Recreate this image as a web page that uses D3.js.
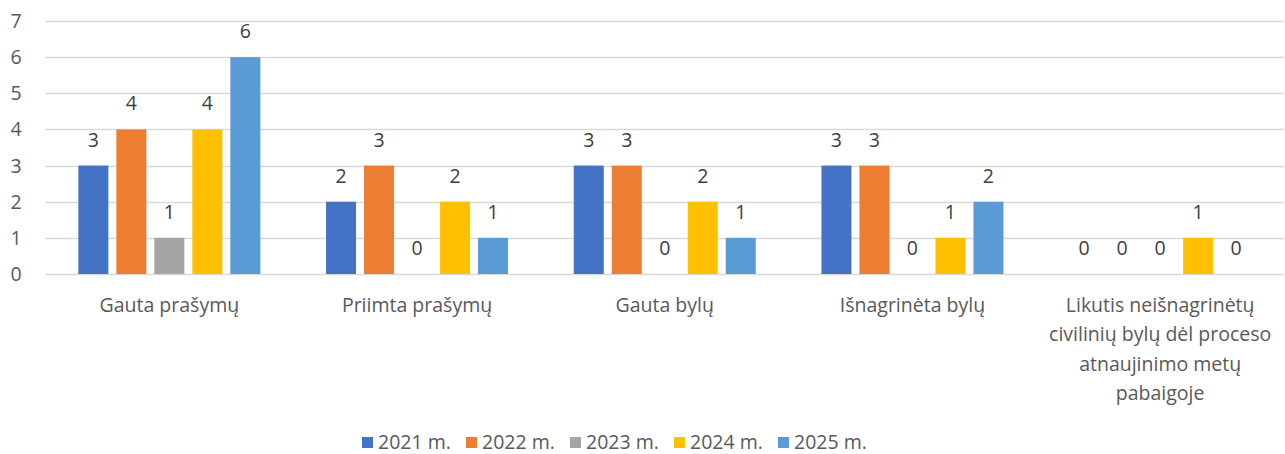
<!DOCTYPE html>
<html>
<head>
<meta charset="utf-8">
<script src="https://cdn.jsdelivr.net/npm/d3@7"></script>
<style>
  body { margin: 0; background: #fff; }
  svg text { font-family: "Open Sans", "Noto Sans", sans-serif; fill: #595959; }
</style>
</head>
<body>
<div id="content"></div>
<script>
const categories = [
  ["Gauta prašymų"],
  ["Priimta prašymų"],
  ["Gauta bylų"],
  ["Išnagrinėta bylų"],
  ["Likutis neišnagrinėtų", "civilinių bylų dėl proceso", "atnaujinimo metų", "pabaigoje"]
];
const seriesNames = ["2021 m.", "2022 m.", "2023 m.", "2024 m.", "2025 m."];
const colors = ["#4472c4", "#ed7d31", "#a5a5a5", "#ffc000", "#5b9bd5"];
const values2021 = [3, 2, 3, 3, 0];
const values2022 = [4, 3, 3, 3, 0];
const values2023 = [1, 0, 0, 0, 0];
const values2024 = [4, 2, 2, 1, 1];
const values2025 = [6, 1, 1, 2, 0];
const yTicks = [0, 1, 2, 3, 4, 5, 6, 7];

const allSeries = [values2021, values2022, values2023, values2024, values2025];

const width = 1285;
const height = 454;
const plotLeft = 45.5, plotRight = 1284, plotTop = 21, plotBottom = 274;
const fontSize = "19.5px";

const svg = d3.select("#content").append("svg")
  .attr("width", width)
  .attr("height", height);

const x0 = d3.scaleBand()
  .domain(d3.range(categories.length))
  .range([plotLeft, plotRight]);

const x1 = d3.scaleBand()
  .domain(d3.range(seriesNames.length))
  .range([-95, 95])
  .paddingInner(0.21)
  .paddingOuter(0.105);

const y = d3.scaleLinear().domain([0, 7]).range([plotBottom, plotTop]);

// gridlines
svg.append("g")
  .selectAll("line")
  .data(yTicks)
  .enter()
  .append("line")
  .attr("x1", plotLeft)
  .attr("x2", plotRight)
  .attr("y1", d => Math.round(y(d)) + 0.5)
  .attr("y2", d => Math.round(y(d)) + 0.5)
  .attr("stroke", "#d9d9d9")
  .attr("stroke-width", 1.4);

// y tick labels
svg.append("g")
  .selectAll("text")
  .data(yTicks)
  .enter()
  .append("text")
  .attr("x", 16)
  .attr("y", d => y(d) + 7)
  .attr("text-anchor", "middle")
  .attr("font-size", fontSize)
  .text(d => d);

// bars
const groups = svg.append("g")
  .selectAll("g")
  .data(categories)
  .enter()
  .append("g")
  .attr("transform", (d, i) => `translate(${x0(i) + x0.bandwidth() / 2},0)`);

groups.each(function(cat, ci) {
  const g = d3.select(this);
  const rows = allSeries.map((s, si) => ({ si, v: s[ci] }));
  g.selectAll("rect")
    .data(rows)
    .enter()
    .append("rect")
    .attr("x", d => x1(d.si))
    .attr("y", d => y(d.v))
    .attr("width", x1.bandwidth())
    .attr("height", d => y(0) - y(d.v))
    .attr("fill", d => colors[d.si]);
  g.selectAll("text.label")
    .data(rows)
    .enter()
    .append("text")
    .attr("class", "label")
    .attr("x", d => x1(d.si) + x1.bandwidth() / 2)
    .attr("y", d => y(d.v) - 19)
    .attr("text-anchor", "middle")
    .attr("font-size", fontSize)
    .style("fill", "#404040")
    .text(d => d.v);
});

// category labels
groups.append("text")
  .attr("text-anchor", "middle")
  .attr("font-size", fontSize)
  .selectAll("tspan")
  .data(d => d)
  .enter()
  .append("tspan")
  .attr("x", 0)
  .attr("y", (d, i) => 312 + i * 29.4)
  .text(d => d);

// legend
const legend = svg.append("g")
  .selectAll("g")
  .data(seriesNames)
  .enter()
  .append("g")
  .attr("transform", (d, i) => `translate(${362 + i * 104},0)`);
legend.append("rect")
  .attr("x", 0)
  .attr("y", 437)
  .attr("width", 11)
  .attr("height", 11)
  .attr("fill", (d, i) => colors[i]);
legend.append("text")
  .attr("x", 16)
  .attr("y", 449)
  .attr("font-size", fontSize)
  .text(d => d);
</script>
</body>
</html>
